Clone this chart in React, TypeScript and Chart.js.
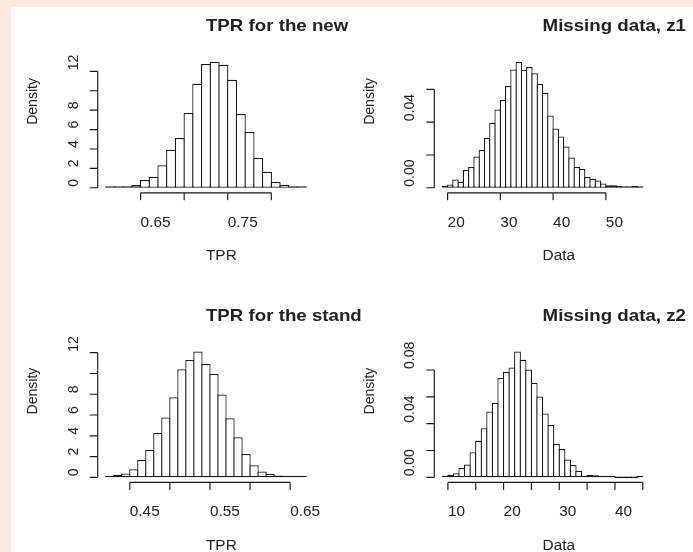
import React, { useEffect, useRef } from 'react';
import { Chart, registerables } from 'chart.js';

Chart.register(...registerables);

const W = 693;
const H = 552;
const PEACH = '#fdeadf';
const INK = '#1a1a1a';
const TEXT_INK = '#222222';
const FONT_FAMILY = '"Liberation Sans", Arial, Helvetica, sans-serif';
const TICK_FONT = `14px ${FONT_FAMILY}`;
const LABEL_FONT = `14px ${FONT_FAMILY}`;
const TITLE_FONT = `bold 17px ${FONT_FAMILY}`;
const SX = 1.1; // horizontal stretch of the text in the reference
const BAR_LINE = 1.25;

// ---------- Panel 1: TPR for the new ----------
const tprNewBreaks = [0.61, 0.62, 0.63, 0.64, 0.65, 0.66, 0.67, 0.68, 0.69, 0.70, 0.71, 0.72, 0.73, 0.74, 0.75, 0.76, 0.77, 0.78, 0.79, 0.80, 0.81, 0.82, 0.83, 0.84];
const tprNewDensity = [0.1, 0.04, 0.15, 0.28, 0.8, 1.13, 2.32, 3.92, 5.12, 7.7, 10.72, 12.75, 12.98, 12.67, 11.14, 7.6, 5.76, 3.09, 1.66, 0.6, 0.31, 0.16, 0.1];
const tprNewXTicks = [0.65, 0.70, 0.75, 0.80];
const tprNewXTickLabels = ['0.65', '', '0.75', ''];
const tprNewYTicks = [0, 2, 4, 6, 8, 10, 12];
const tprNewYTickLabels = ['0', '2', '4', '6', '8', '', '12'];

// ---------- Panel 2: Missing data, z1 ----------
const z1Breaks = [19, 20, 21, 22, 23, 24, 25, 26, 27, 28, 29, 30, 31, 32, 33, 34, 35, 36, 37, 38, 39, 40, 41, 42, 43, 44, 45, 46, 47, 48, 49, 50, 51, 52, 53, 54, 55, 56, 57];
const z1Density = [0.0012, 0.002, 0.005, 0.0037, 0.0108, 0.0126, 0.019, 0.023, 0.0305, 0.0397, 0.0478, 0.0535, 0.062, 0.0722, 0.0768, 0.0718, 0.0736, 0.0698, 0.0633, 0.058, 0.0441, 0.0362, 0.0313, 0.0252, 0.0185, 0.0128, 0.0114, 0.0065, 0.0055, 0.0045, 0.0026, 0.0016, 0.0016, 0.001, 0.0004, 0.0004, 0.001, 0.0004];
const z1XTicks = [20, 30, 40, 50];
const z1XTickLabels = ['20', '30', '40', '50'];
const z1YTicks = [0, 0.02, 0.04, 0.06];
const z1YTickLabels = ['0.00', '', '0.04', ''];

// ---------- Panel 3: TPR for the stand ----------
const tprStandBreaks = [0.42, 0.43, 0.44, 0.45, 0.46, 0.47, 0.48, 0.49, 0.50, 0.51, 0.52, 0.53, 0.54, 0.55, 0.56, 0.57, 0.58, 0.59, 0.60, 0.61, 0.62, 0.63, 0.64, 0.65, 0.66, 0.67];
const tprStandDensity = [0.06, 0.25, 0.36, 0.77, 1.66, 2.66, 4.29, 5.76, 7.71, 10.4, 11.3, 12.12, 10.9, 9.98, 7.97, 5.68, 3.86, 2.26, 1.16, 0.56, 0.34, 0.17, 0.06, 0.02, 0.01];
const tprStandXTicks = [0.45, 0.50, 0.55, 0.60, 0.65];
const tprStandXTickLabels = ['0.45', '', '0.55', '', '0.65'];
const tprStandYTicks = [0, 2, 4, 6, 8, 10, 12];
const tprStandYTickLabels = ['0', '2', '4', '6', '8', '', '12'];

// ---------- Panel 4: Missing data, z2 ----------
const z2Breaks = [9, 10, 11, 12, 13, 14, 15, 16, 17, 18, 19, 20, 21, 22, 23, 24, 25, 26, 27, 28, 29, 30, 31, 32, 33, 34, 35, 36, 37, 38, 39, 40, 41, 42, 43, 44, 45];
const z2Density = [0.0007, 0.002, 0.003, 0.007, 0.0095, 0.0187, 0.0272, 0.0366, 0.0491, 0.0555, 0.0741, 0.0786, 0.0818, 0.0938, 0.0876, 0.0803, 0.0704, 0.0602, 0.0475, 0.039, 0.0251, 0.0211, 0.0133, 0.0092, 0.005, 0.0012, 0.002, 0.0015, 0.0005, 0.0002, 0.0001, 0, 0, 0, 0, 0.0001];
const z2XTicks = [10, 15, 20, 25, 30, 35, 40, 45];
const z2XTickLabels = ['10', '', '20', '', '30', '', '40', ''];
const z2YTicks = [0, 0.02, 0.04, 0.06, 0.08];
const z2YTickLabels = ['0.00', '', '0.04', '', '0.08'];

// ---------- layout of the four plot regions ----------
const COLS = [
  { left: 97.7, right: 314.2 },
  { left: 434.3, right: 650.8 },
];
const ROWS = [
  { top: 56.8, bottom: 192.8 },
  { top: 346.4, bottom: 482.4 },
];

type PanelSpec = {
  title: string;
  xLabel: string;
  yLabel: string;
  breaks: number[];
  density: number[];
  xTicks: number[];
  xTickLabels: string[];
  yTicks: number[];
  yTickLabels: string[];
  col: number;
  row: number;
};

const PANELS: PanelSpec[] = [
  { title: 'TPR for the new', xLabel: 'TPR', yLabel: 'Density', breaks: tprNewBreaks, density: tprNewDensity, xTicks: tprNewXTicks, xTickLabels: tprNewXTickLabels, yTicks: tprNewYTicks, yTickLabels: tprNewYTickLabels, col: 0, row: 0 },
  { title: 'Missing data, z1', xLabel: 'Data', yLabel: 'Density', breaks: z1Breaks, density: z1Density, xTicks: z1XTicks, xTickLabels: z1XTickLabels, yTicks: z1YTicks, yTickLabels: z1YTickLabels, col: 1, row: 0 },
  { title: 'TPR for the stand', xLabel: 'TPR', yLabel: 'Density', breaks: tprStandBreaks, density: tprStandDensity, xTicks: tprStandXTicks, xTickLabels: tprStandXTickLabels, yTicks: tprStandYTicks, yTickLabels: tprStandYTickLabels, col: 0, row: 1 },
  { title: 'Missing data, z2', xLabel: 'Data', yLabel: 'Density', breaks: z2Breaks, density: z2Density, xTicks: z2XTicks, xTickLabels: z2XTickLabels, yTicks: z2YTicks, yTickLabels: z2YTickLabels, col: 1, row: 1 },
];

function hText(ctx: CanvasRenderingContext2D, text: string, x: number, y: number, font: string) {
  ctx.save();
  ctx.translate(x, y);
  ctx.scale(SX, 1);
  ctx.font = font;
  ctx.textAlign = 'left';
  ctx.textBaseline = 'alphabetic';
  ctx.fillText(text, 0, 0);
  ctx.restore();
}

function vText(ctx: CanvasRenderingContext2D, text: string, x: number, y: number, font: string) {
  ctx.save();
  ctx.translate(x, y);
  ctx.scale(SX, 1);
  ctx.rotate(-Math.PI / 2);
  ctx.font = font;
  ctx.textAlign = 'left';
  ctx.textBaseline = 'alphabetic';
  ctx.fillText(text, 0, 0);
  ctx.restore();
}

function rStylePlugin(p: PanelSpec) {
  return {
    id: 'rStyleAxes',
    afterDraw(chart: any) {
      const ctx: CanvasRenderingContext2D = chart.ctx;
      const xs = chart.scales.x;
      const ys = chart.scales.y;
      const a = chart.chartArea;
      ctx.save();
      ctx.strokeStyle = INK;
      ctx.fillStyle = TEXT_INK;
      ctx.lineWidth = 1.15;
      ctx.beginPath();
      // y axis (R style: from first to last tick, at the plot region edge)
      const yA = ys.getPixelForValue(p.yTicks[0]);
      const yB = ys.getPixelForValue(p.yTicks[p.yTicks.length - 1]);
      ctx.moveTo(a.left, yA);
      ctx.lineTo(a.left, yB);
      p.yTicks.forEach((v) => {
        const py = ys.getPixelForValue(v);
        ctx.moveTo(a.left, py);
        ctx.lineTo(a.left - 8, py);
      });
      // x axis
      const xA = xs.getPixelForValue(p.xTicks[0]);
      const xB = xs.getPixelForValue(p.xTicks[p.xTicks.length - 1]);
      ctx.moveTo(xA, a.bottom);
      ctx.lineTo(xB, a.bottom);
      p.xTicks.forEach((v) => {
        const px = xs.getPixelForValue(v);
        ctx.moveTo(px, a.bottom);
        ctx.lineTo(px, a.bottom + 7.5);
      });
      ctx.stroke();

      p.yTicks.forEach((v, i) => {
        const lab = p.yTickLabels[i];
        if (lab) vText(ctx, lab, a.left - 20, ys.getPixelForValue(v) - 1, TICK_FONT);
      });
      p.xTicks.forEach((v, i) => {
        const lab = p.xTickLabels[i];
        if (lab) hText(ctx, lab, xs.getPixelForValue(v), a.bottom + 34, TICK_FONT);
      });
      const cx = (a.left + a.right) / 2;
      const cy = (a.top + a.bottom) / 2;
      hText(ctx, p.title, cx, a.top - 25.6, TITLE_FONT);
      hText(ctx, p.xLabel, cx, a.bottom + 67.5, LABEL_FONT);
      vText(ctx, p.yLabel, a.left - 60.5, cy, LABEL_FONT);
      ctx.restore();
    },
  };
}

function Panel({ spec }: { spec: PanelSpec }) {
  const ref = useRef<HTMLCanvasElement | null>(null);
  useEffect(() => {
    if (!ref.current) return;
    const { breaks, density } = spec;
    const col = COLS[spec.col];
    const row = ROWS[spec.row];
    const first = breaks[0];
    const last = breaks[breaks.length - 1];
    const xr = last - first;
    const xmin = first - 0.04 * xr;
    const xmax = last + 0.04 * xr;
    const dmax = Math.max(...density);
    const ymin = -0.04 * dmax;
    const ymax = 1.04 * dmax;
    const binPx = ((col.right - col.left) * (breaks[1] - breaks[0])) / (xmax - xmin);
    const points = density.map((d, i) => ({ x: (breaks[i] + breaks[i + 1]) / 2, y: d }));

    const chart = new Chart(ref.current, {
      type: 'bar',
      data: {
        datasets: [
          {
            data: points as any,
            backgroundColor: '#ffffff',
            borderColor: INK,
            borderWidth: BAR_LINE,
            borderSkipped: false,
            barPercentage: 1 + BAR_LINE / binPx,
            categoryPercentage: 1,
            inflateAmount: 0,
            minBarLength: 1.6,
          } as any,
        ],
      },
      options: {
        responsive: false,
        animation: false,
        devicePixelRatio: 1,
        events: [],
        layout: {
          padding: { left: col.left, top: row.top, right: W - col.right, bottom: H - row.bottom },
        },
        plugins: {
          legend: { display: false },
          title: { display: false },
          tooltip: { enabled: false },
        },
        scales: {
          x: { type: 'linear', display: false, offset: false, min: xmin, max: xmax, ticks: { count: 2 }, grid: { offset: false } } as any,
          y: { type: 'linear', display: false, min: ymin, max: ymax, ticks: { count: 2 } } as any,
        },
      },
      plugins: [rStylePlugin(spec)],
    });
    return () => chart.destroy();
  }, [spec]);
  return (
    <canvas
      ref={ref}
      width={W}
      height={H}
      style={{ position: 'absolute', left: 0, top: 0, width: W, height: H }}
    />
  );
}

export default function App() {
  return (
    <div style={{ position: 'absolute', left: 0, top: 0, width: W, height: H, background: PEACH, overflow: 'hidden' }}>
      <div style={{ position: 'absolute', left: 11, top: 7, right: 0, bottom: 0, background: '#ffffff' }} />
      {PANELS.map((p, i) => (
        <Panel key={i} spec={p} />
      ))}
    </div>
  );
}
